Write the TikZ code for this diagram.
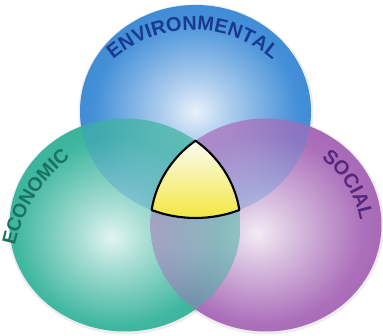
\documentclass[tikz,border=0pt]{standalone}
\usepackage{fontspec}
\setmainfont{Liberation Sans}
\usetikzlibrary{calc,decorations.text}

% sphere colours: rim, mid tone, light tone, bright core
\definecolor{envedge}{HTML}{1C76C8}
\definecolor{envmid}{HTML}{4490D8}
\definecolor{envlight}{HTML}{B0CFEF}
\definecolor{envcore}{HTML}{E8F1FA}
\definecolor{ecoedge}{HTML}{1EA288}
\definecolor{ecomid}{HTML}{40B7A0}
\definecolor{ecolight}{HTML}{ABDFD5}
\definecolor{ecocore}{HTML}{E2F5F2}
\definecolor{socedge}{HTML}{9143A2}
\definecolor{socmid}{HTML}{AC70BB}
\definecolor{soclight}{HTML}{DAC3E1}
\definecolor{soccore}{HTML}{F3ECF4}
% label colours
\definecolor{envtext}{HTML}{193A90}
\definecolor{ecotext}{HTML}{1A735E}
\definecolor{soctext}{HTML}{57277E}
% centre piece
\definecolor{coretop}{HTML}{FCFCF4}
\definecolor{coremid}{HTML}{F6EF95}
\definecolor{corebot}{HTML}{F2E63A}

\pgfdeclareradialshading{envball}{\pgfpoint{0bp}{0bp}}%
  {color(0bp)=(envcore); color(7bp)=(envlight); color(22bp)=(envmid); color(50bp)=(envedge)}
\pgfdeclareradialshading{ecoball}{\pgfpoint{-3bp}{-3bp}}%
  {color(0bp)=(ecocore); color(7bp)=(ecolight); color(22bp)=(ecomid); color(50bp)=(ecoedge)}
\pgfdeclareradialshading{socball}{\pgfpoint{-2bp}{-2bp}}%
  {color(0bp)=(soccore); color(7bp)=(soclight); color(22bp)=(socmid); color(50bp)=(socedge)}

\tikzset{
  sphere/.style={x radius=115.5, y radius=106.5},
  halo/.style={x radius=117.5, y radius=108.5},
  lbltext/.style={decorate, decoration={text along path, text align=center}}
}

\begin{document}
\begin{tikzpicture}[x=0.03cm, y=0.03cm]
  % canvas
  \fill[white] (0,0) rectangle (383,336);
  \useasboundingbox (0,0) rectangle (383,336);

  % centres of the three spheres
  \coordinate (env) at (195.5,224.5);
  \coordinate (eco) at (125,111);
  \coordinate (soc) at (266,111);

  % faint halo under each sphere
  \foreach \c in {env,eco,soc}
    \fill[black, fill opacity=0.07] ($(\c)+(0.5,-1)$) ellipse [halo];

  % opaque discs
  \shade[shading=envball] (env) ellipse [sphere];
  \shade[shading=ecoball] (eco) ellipse [sphere];
  \shade[shading=socball] (soc) ellipse [sphere];

  % see-through overlaps
  \begin{scope}
    \clip (env) ellipse [sphere];
    \shade[shading=envball, fill opacity=0.3] (env) ellipse [sphere];
  \end{scope}
  \begin{scope}
    \clip (soc) ellipse [sphere];
    \shade[shading=ecoball, fill opacity=0.5] (eco) ellipse [sphere];
  \end{scope}

  % common core of all three
  \coordinate (coretip) at ($(soc)+(127.62:115.5 and 106.5)$);
  \shadedraw[top color=coretop, middle color=coremid, bottom color=corebot,
             draw=black, line width=1.8pt, line join=round]
    (coretip)
    arc[start angle=127.62, end angle=171.91, sphere]
    arc[start angle=247.69, end angle=292.31, sphere]
    arc[start angle=8.09, end angle=52.38, sphere]
    -- cycle;

  % curved labels
  \coordinate (envlbl) at (193,184);
  \coordinate (ecolbl) at (162,59.7);
  \coordinate (soclbl) at (260,96);
  \path[lbltext, decoration={text color=envtext,
        text={|\fontsize{17pt}{17pt}\selectfont\bfseries|ENVIRONMENTAL}}]
    ($(envlbl)+(142:122)$) arc[start angle=142, end angle=38, radius=122];
  \path[lbltext, decoration={text color=ecotext,
        text={|\fontsize{16.5pt}{16.5pt}\selectfont\bfseries|ECONOMIC}}]
    ($(ecolbl)+(188:150)$) arc[start angle=188, end angle=108, radius=150];
  \path[lbltext, decoration={text color=soctext,
        text={|\fontsize{17pt}{17pt}\selectfont\bfseries|SOCIAL}}]
    ($(soclbl)+(78:102)$) arc[start angle=78, end angle=-14, radius=102];
\end{tikzpicture}
\end{document}
